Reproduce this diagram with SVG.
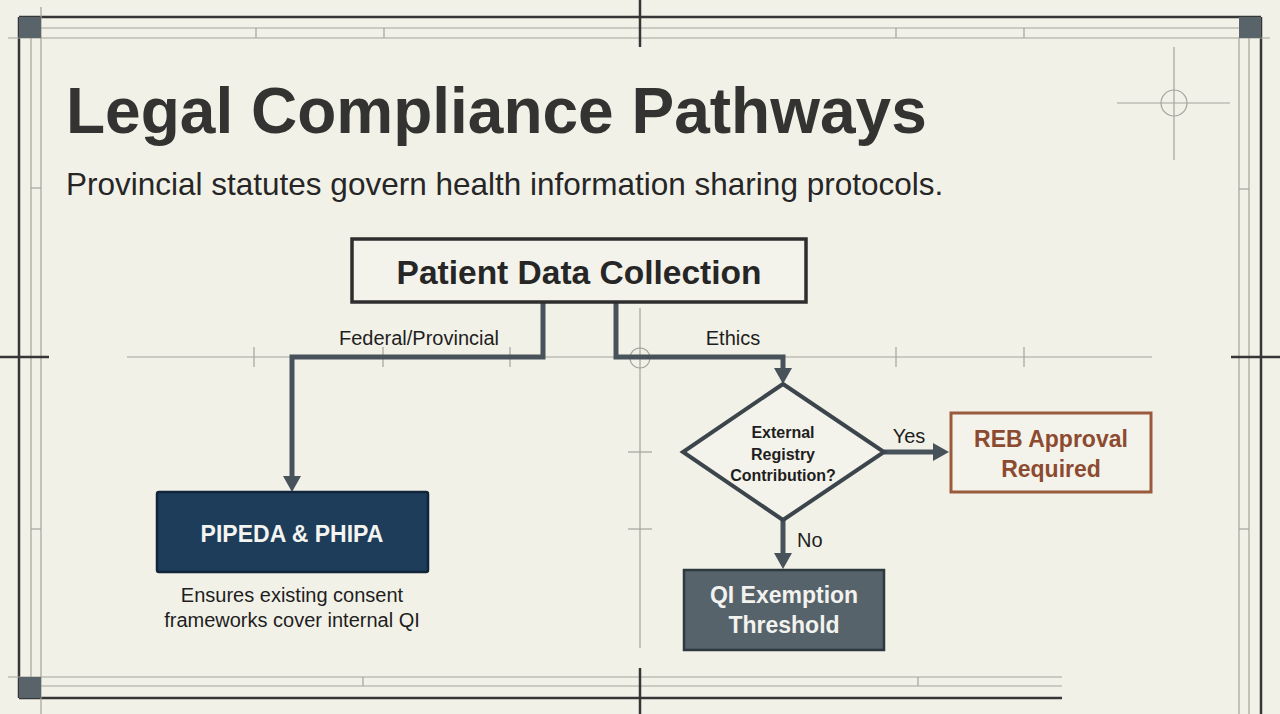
<svg xmlns="http://www.w3.org/2000/svg" width="1280" height="714" viewBox="0 0 1280 714">
<defs>
<style>
.thick{stroke:#363636;stroke-width:2.5;fill:none}
.thin{stroke:#a3a39c;stroke-width:1.2;fill:none}
.corner{fill:#59636a}
.conn{stroke:#48525a;stroke-width:5;fill:none;stroke-linejoin:miter}
.lbl{font-family:"Liberation Sans",Arial,sans-serif;font-size:20px;fill:#1e1e1e}
.t{font-family:"Liberation Sans",Arial,sans-serif}
</style>
<marker id="arr" viewBox="0 -9 16 18" refX="0" refY="0" markerWidth="16" markerHeight="18" markerUnits="userSpaceOnUse" orient="auto">
<path d="M0,-9 L16,0 L0,9 z" fill="#48525a"/>
</marker>
</defs>
<rect width="1280" height="714" fill="#f2f1e8"/>
<g id="frame">
<line class="thick" x1="19" y1="17" x2="1261" y2="17"/>
<line class="thick" x1="19" y1="17" x2="19" y2="698"/>
<line class="thick" x1="19" y1="698" x2="1062" y2="698"/>
<line class="thick" x1="1261" y1="17" x2="1261" y2="714"/>
<line class="thin" x1="41" y1="28" x2="1239" y2="28"/>
<line class="thin" x1="8" y1="38" x2="1270" y2="38"/>
<line class="thin" x1="31" y1="38" x2="31" y2="677"/>
<line class="thin" x1="41" y1="7" x2="41" y2="714"/>
<line class="thin" x1="8" y1="677" x2="1062" y2="677"/>
<line class="thin" x1="41" y1="686" x2="1062" y2="686"/>
<line class="thin" x1="1239" y1="38" x2="1239" y2="714"/>
<line class="thin" x1="1249" y1="38" x2="1249" y2="714"/>
<line class="thin" x1="256" y1="28" x2="256" y2="38"/>
<line class="thin" x1="384" y1="28" x2="384" y2="38"/>
<line class="thin" x1="896" y1="28" x2="896" y2="38"/>
<line class="thin" x1="1024" y1="28" x2="1024" y2="38"/>
<line class="thin" x1="363" y1="677" x2="363" y2="686"/>
<line class="thin" x1="918" y1="677" x2="918" y2="686"/>
<line class="thin" x1="31" y1="188" x2="41" y2="188"/>
<line class="thin" x1="31" y1="529" x2="41" y2="529"/>
<line class="thin" x1="1239" y1="189" x2="1249" y2="189"/>
<line class="thin" x1="1239" y1="529" x2="1249" y2="529"/>
<rect class="corner" x="19" y="17" width="22" height="21"/>
<rect class="corner" x="1239" y="17" width="22" height="21"/>
<rect class="corner" x="19" y="677" width="22" height="21"/>
<line class="thick" x1="640" y1="0" x2="640" y2="47" stroke-width="3"/>
<line class="thick" x1="640" y1="668" x2="640" y2="714" stroke-width="3"/>
<line class="thick" x1="0" y1="357" x2="49" y2="357"/>
<line class="thick" x1="1231" y1="357" x2="1280" y2="357"/>
<line class="thin" x1="127" y1="357" x2="1152" y2="357"/>
<line class="thin" x1="254" y1="347" x2="254" y2="367"/>
<line class="thin" x1="383" y1="347" x2="383" y2="367"/>
<line class="thin" x1="510" y1="347" x2="510" y2="367"/>
<line class="thin" x1="896" y1="347" x2="896" y2="367"/>
<line class="thin" x1="1024" y1="347" x2="1024" y2="367"/>
<line class="thin" x1="640" y1="308" x2="640" y2="648"/>
<line class="thin" x1="628" y1="452" x2="652" y2="452"/>
<line class="thin" x1="628" y1="529" x2="652" y2="529"/>
<circle class="thin" cx="640" cy="358" r="10"/>
<line class="thin" x1="1117" y1="103" x2="1230" y2="103"/>
<line class="thin" x1="1174" y1="47" x2="1174" y2="160"/>
<circle class="thin" cx="1174" cy="103" r="13"/>
</g>
<g id="title">
<text class="t" x="66" y="133" font-size="64" font-weight="bold" fill="#333331">Legal Compliance Pathways</text>
<text class="t" x="66" y="195" font-size="31.5" fill="#262626">Provincial statutes govern health information sharing protocols.</text>
</g>
<g id="connectors">
<path class="conn" d="M543,302 V357 H292 V476" marker-end="url(#arr)"/>
<path class="conn" d="M616,302 V357 H783 V368" marker-end="url(#arr)"/>
<path class="conn" d="M884,452 H933" marker-end="url(#arr)"/>
<path class="conn" d="M783,520 V553" marker-end="url(#arr)"/>
<text class="lbl" x="419" y="345" text-anchor="middle">Federal/Provincial</text>
<text class="lbl" x="733" y="345" text-anchor="middle">Ethics</text>
<text class="lbl" x="909" y="443" text-anchor="middle">Yes</text>
<text class="lbl" x="797" y="547">No</text>
</g>
<g id="patient">
<rect x="352" y="239" width="454" height="63" fill="#f4f3eb" stroke="#2e2e2e" stroke-width="3.5"/>
<text class="t" x="579" y="284" font-size="33.5" font-weight="bold" fill="#262626" text-anchor="middle">Patient Data Collection</text>
</g>
<g id="pipeda">
<rect x="157" y="492" width="271" height="80" rx="2" fill="#1d3d5b" stroke="#10243a" stroke-width="2.5"/>
<text class="t" x="292" y="542" font-size="23" font-weight="bold" fill="#f4f4f0" text-anchor="middle">PIPEDA &amp; PHIPA</text>
<text class="t" x="292" y="602" font-size="20" fill="#1e1e1e" text-anchor="middle">Ensures existing consent</text>
<text class="t" x="292" y="627" font-size="20" fill="#1e1e1e" text-anchor="middle">frameworks cover internal QI</text>
</g>
<g id="decision">
<polygon points="783,384 884,452 783,520 683,452" fill="#f4f3eb" stroke="#3c454b" stroke-width="4" stroke-linejoin="miter"/>
<text class="t" x="783" y="438" font-size="16" font-weight="bold" fill="#1e1e1e" text-anchor="middle">External</text>
<text class="t" x="783" y="460" font-size="16" font-weight="bold" fill="#1e1e1e" text-anchor="middle">Registry</text>
<text class="t" x="783" y="481" font-size="16" font-weight="bold" fill="#1e1e1e" text-anchor="middle">Contribution?</text>
</g>
<g id="reb">
<rect x="951" y="413" width="200" height="79" fill="#f4f3eb" stroke="#9a5a3c" stroke-width="3"/>
<text class="t" x="1051" y="447" font-size="23" font-weight="bold" fill="#8c4b30" text-anchor="middle">REB Approval</text>
<text class="t" x="1051" y="477" font-size="23" font-weight="bold" fill="#8c4b30" text-anchor="middle">Required</text>
</g>
<g id="qi">
<rect x="684" y="570" width="200" height="80" fill="#56636b" stroke="#2e393f" stroke-width="2.5"/>
<text class="t" x="784" y="603" font-size="23" font-weight="bold" fill="#f2f2ee" text-anchor="middle">QI Exemption</text>
<text class="t" x="784" y="633" font-size="23" font-weight="bold" fill="#f2f2ee" text-anchor="middle">Threshold</text>
</g>
</svg>
